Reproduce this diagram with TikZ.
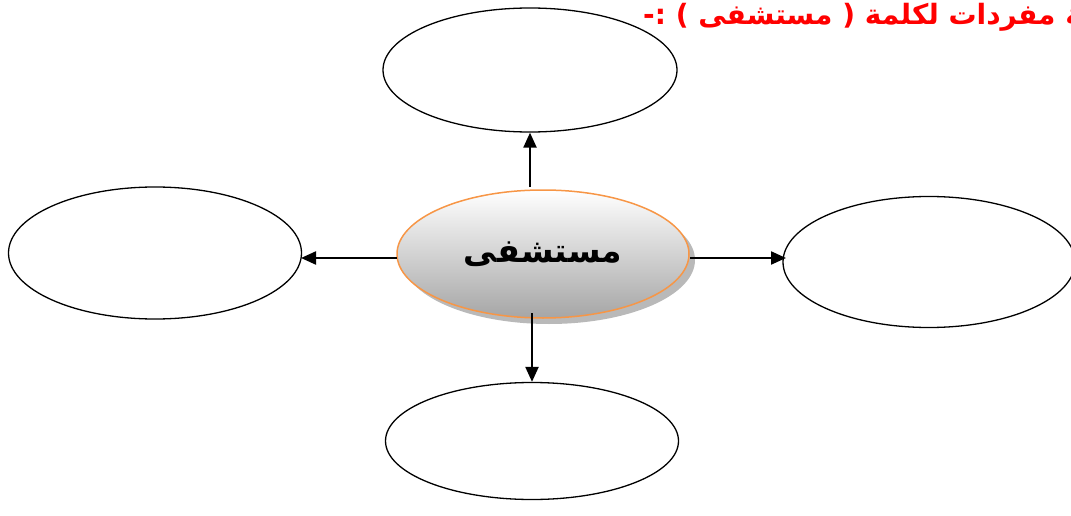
\documentclass[tikz,border=0pt]{standalone}
\usepackage{fontspec}
\newfontfamily\arabicfont[Script=Arabic]{DejaVu Sans}
\TeXXeTstate=1
\usetikzlibrary{shapes.geometric,arrows.meta}
\definecolor{orng}{HTML}{F79646}
\begin{document}
\begin{tikzpicture}[x=1pt,y=-1pt,
  leaf/.style={draw=black,line width=1.3pt,ellipse,fill=white},
  link/.style={line width=2.2pt,-{Triangle[length=15pt,width=13pt]}}]
\useasboundingbox (0,0) rectangle (1071,516);
\clip (0,0) rectangle (1071,516);
% outer ellipses
\node[leaf,minimum width=294pt,minimum height=124pt] (top) at (530,70) {};
\node[leaf,minimum width=293pt,minimum height=132pt] (left) at (155,253) {};
\node[leaf,minimum width=292pt,minimum height=131pt] (right) at (929,262) {};
\node[leaf,minimum width=293pt,minimum height=117pt] (bot) at (532,441) {};
% center shadow
\fill[gray!55] (549,260) ellipse [x radius=146pt, y radius=64pt];
\node[ellipse,draw=orng,line width=1.5pt,minimum width=292pt,minimum height=128pt,
  top color=white,bottom color=gray!70,inner sep=0pt] (c) at (543,254)
  {\arabicfont\bfseries\fontsize{33}{38}\selectfont\beginR مستشفى\endR};
% connectors
\coordinate (cu) at (530,187);
\coordinate (cd) at (532,313);
\coordinate (cl) at (397,258);
\coordinate (cr) at (690,258);
\coordinate (le) at (301,258);
\coordinate (re) at (786,258);
\draw[link] (cu) -- (top.south);
\draw[link] (cl) -- (le);
\draw[link] (cr) -- (re);
\draw[link] (cd) -- (bot.north);
% title
\node[anchor=west,inner sep=0pt,text=red] (title) at (643,17)
  {\arabicfont\bfseries\fontsize{28}{33}\selectfont\beginR اكتب شبكة مفردات لكلمة ( مستشفى ) :-\endR};
\end{tikzpicture}
\end{document}
